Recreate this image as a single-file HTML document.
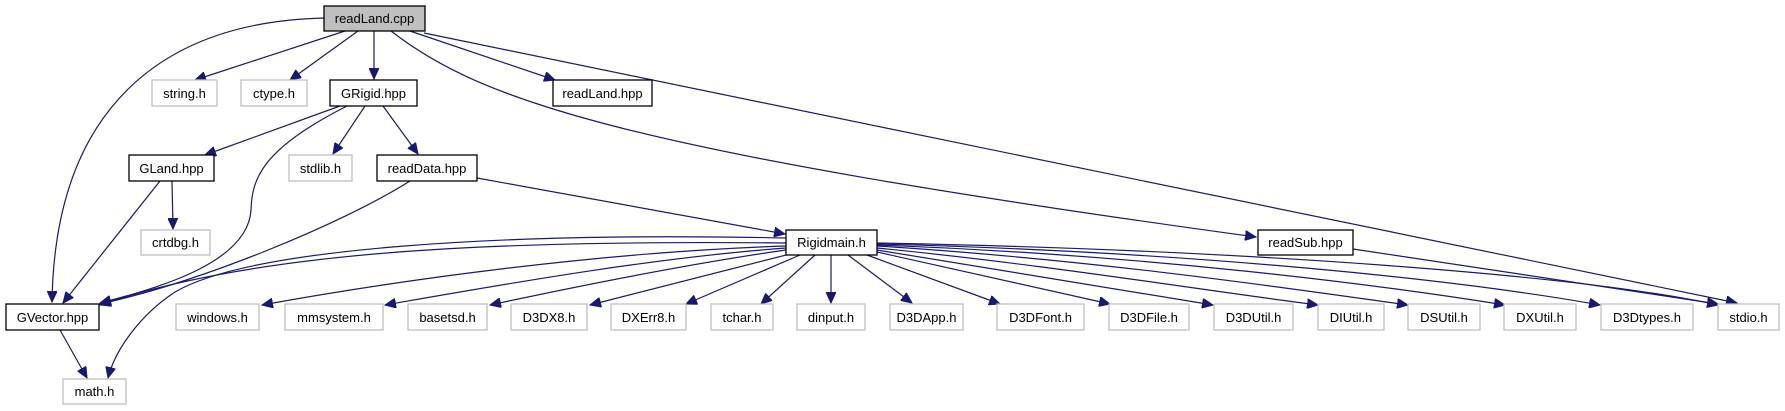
<!DOCTYPE html>
<html><head><meta charset="utf-8"><style>
html,body{margin:0;padding:0;background:#fff;}
svg{display:block;}
text{font-family:"Liberation Sans",Arial,sans-serif;font-size:13px;fill:#000;}
.g{fill:#fff;stroke:#bfbfbf;stroke-width:1.3;}
.b{fill:#fff;stroke:#000;stroke-width:1.3;}
.e{fill:none;stroke:#191970;stroke-width:1.2;}
</style></head><body>
<svg width="1785" height="411" viewBox="0 0 1785 411" xmlns="http://www.w3.org/2000/svg">
<defs><marker id="a" markerUnits="userSpaceOnUse" markerWidth="12" markerHeight="10" refX="11" refY="5" orient="auto"><path d="M0,0 L11,5 L0,10 Z" fill="#191970" stroke="#191970"/></marker></defs>
<g class="e" marker-end="url(#a)">
<path d="M324,18 C160,22 55,110 52,302"/>
<path d="M345,31 L195,80"/>
<path d="M358,31 L290,80"/>
<path d="M374,31 L374,79"/>
<path d="M410,31 L555,80"/>
<path d="M391,31 C480,100 620,150 1256,237"/>
<path d="M424,33 L1737,303"/>
<path d="M340,106 L205,155"/>
<path d="M347,106 C260,150 252,180 251,210 C248,262 160,288 100,303"/>
<path d="M365,106 L333,154"/>
<path d="M383,106 L418,154"/>
<path d="M160,181 L63,303"/>
<path d="M172,181 L173,229"/>
<path d="M410,181 C340,225 200,282 100,304"/>
<path d="M477,178 L785,234"/>
<path d="M1353,249 L1718,304"/>
<path d="M60,330 L87,378"/>
<path d="M786,243 C500,240 260,250 100,305"/>
<path d="M786,238 C500,232 250,248 175,292 C140,315 115,350 108,378"/>
<path d="M786,246 C600,252 400,280 262,305"/>
<path d="M786,248 C650,258 500,285 385,305"/>
<path d="M786,250 C680,265 560,290 490,305"/>
<path d="M790,254 L590,305"/>
<path d="M800,255 L686,304"/>
<path d="M815,255 L761,304"/>
<path d="M831,255 L831,303"/>
<path d="M848,255 L912,303"/>
<path d="M867,255 L1000,304"/>
<path d="M877,252 L1110,304"/>
<path d="M877,250 C1000,270 1120,290 1213,305"/>
<path d="M877,248 C1050,265 1200,290 1318,305"/>
<path d="M877,246 C1100,260 1300,290 1408,305"/>
<path d="M877,245 C1150,255 1380,285 1505,305"/>
<path d="M877,244 C1200,252 1460,280 1600,305"/>
<path d="M877,243 C1250,250 1580,275 1718,305"/>
</g>
<rect x="324" y="6" width="101" height="25" fill="#bfbfbf" stroke="#000" stroke-width="1.3"/><text x="374.5" y="23" text-anchor="middle">readLand.cpp</text>
<rect class="g" x="152" y="80" width="65" height="26"/><text x="184.5" y="98" text-anchor="middle">string.h</text>
<rect class="g" x="241" y="80" width="66" height="26"/><text x="274" y="98" text-anchor="middle">ctype.h</text>
<rect class="b" x="330" y="80" width="87" height="26"/><text x="373.5" y="98" text-anchor="middle">GRigid.hpp</text>
<rect class="b" x="553" y="80" width="99" height="26"/><text x="602.5" y="98" text-anchor="middle">readLand.hpp</text>
<rect class="b" x="129" y="155" width="85" height="26"/><text x="171.5" y="173" text-anchor="middle">GLand.hpp</text>
<rect class="g" x="289" y="155" width="63" height="26"/><text x="320.5" y="173" text-anchor="middle">stdlib.h</text>
<rect class="b" x="377" y="155" width="100" height="26"/><text x="427" y="173" text-anchor="middle">readData.hpp</text>
<rect class="g" x="141" y="230" width="69" height="25"/><text x="175.5" y="247" text-anchor="middle">crtdbg.h</text>
<rect class="b" x="786" y="230" width="91" height="25"/><text x="831.5" y="247" text-anchor="middle">Rigidmain.h</text>
<rect class="b" x="1258" y="230" width="95" height="25"/><text x="1305.5" y="247" text-anchor="middle">readSub.hpp</text>
<rect class="b" x="6" y="304" width="93" height="26"/><text x="52.5" y="322" text-anchor="middle">GVector.hpp</text>
<rect class="g" x="63" y="379" width="63" height="25"/><text x="94.5" y="396" text-anchor="middle">math.h</text>
<rect class="g" x="176" y="304" width="83" height="26"/><text x="217.5" y="322" text-anchor="middle">windows.h</text>
<rect class="g" x="285" y="304" width="98" height="26"/><text x="334" y="322" text-anchor="middle">mmsystem.h</text>
<rect class="g" x="408" y="304" width="79" height="26"/><text x="447.5" y="322" text-anchor="middle">basetsd.h</text>
<rect class="g" x="511" y="304" width="76" height="26"/><text x="549" y="322" text-anchor="middle">D3DX8.h</text>
<rect class="g" x="611" y="304" width="75" height="26"/><text x="648.5" y="322" text-anchor="middle">DXErr8.h</text>
<rect class="g" x="711" y="304" width="62" height="26"/><text x="742" y="322" text-anchor="middle">tchar.h</text>
<rect class="g" x="797" y="304" width="68" height="26"/><text x="831" y="322" text-anchor="middle">dinput.h</text>
<rect class="g" x="890" y="304" width="73" height="26"/><text x="926.5" y="322" text-anchor="middle">D3DApp.h</text>
<rect class="g" x="997" y="304" width="87" height="26"/><text x="1040.5" y="322" text-anchor="middle">D3DFont.h</text>
<rect class="g" x="1109" y="304" width="80" height="26"/><text x="1149" y="322" text-anchor="middle">D3DFile.h</text>
<rect class="g" x="1214" y="304" width="79" height="26"/><text x="1253.5" y="322" text-anchor="middle">D3DUtil.h</text>
<rect class="g" x="1318" y="304" width="66" height="26"/><text x="1351" y="322" text-anchor="middle">DIUtil.h</text>
<rect class="g" x="1408" y="304" width="72" height="26"/><text x="1444" y="322" text-anchor="middle">DSUtil.h</text>
<rect class="g" x="1504" y="304" width="72" height="26"/><text x="1540" y="322" text-anchor="middle">DXUtil.h</text>
<rect class="g" x="1601" y="304" width="92" height="26"/><text x="1647" y="322" text-anchor="middle">D3Dtypes.h</text>
<rect class="g" x="1718" y="304" width="61" height="26"/><text x="1748.5" y="322" text-anchor="middle">stdio.h</text>
</svg>
</body></html>
